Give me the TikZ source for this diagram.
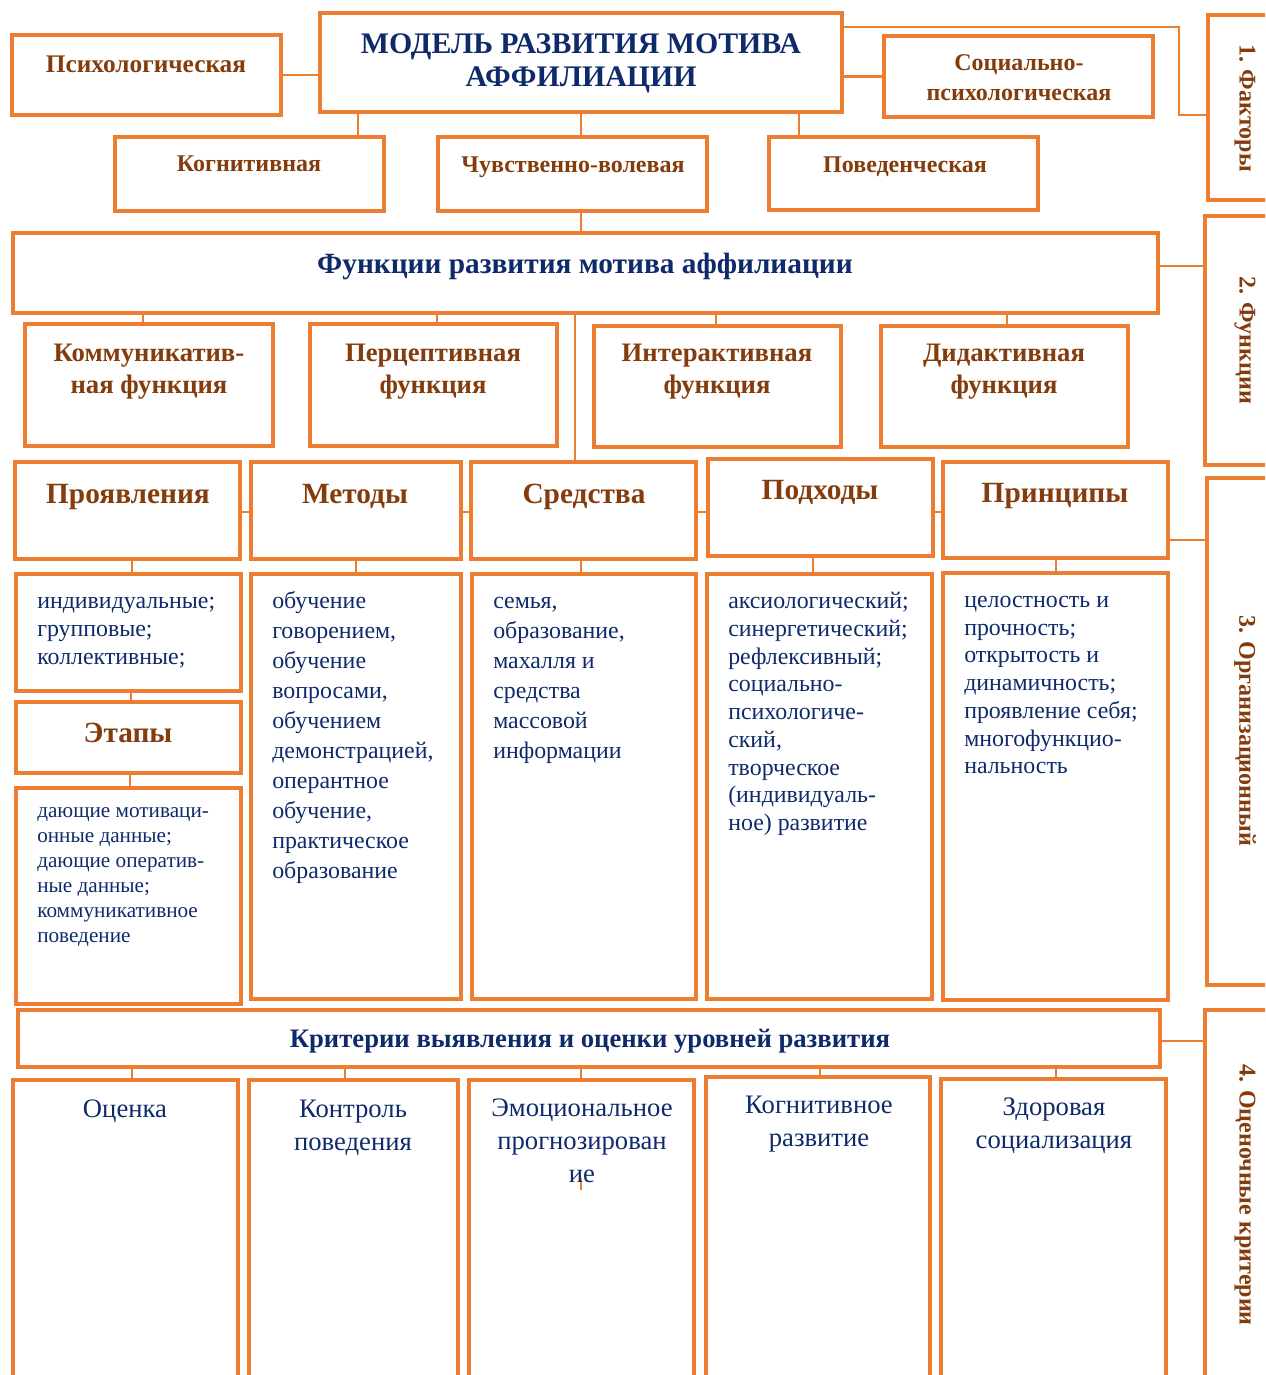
\documentclass[tikz,border=0pt]{standalone}
\usepackage{fontspec}
\setmainfont{Liberation Serif}
\usetikzlibrary{fit}

\definecolor{lineor}{HTML}{ED7D31}
\definecolor{txtbrown}{HTML}{843C0C}
\definecolor{txtblue}{HTML}{0E2A6A}

\tikzset{
  box/.style={rectangle, draw=lineor, line width=2.35pt, inner sep=0pt, outer sep=0pt},
  link/.style={draw=lineor, line width=2.1pt},
  factor/.style={text=txtbrown, inner sep=0pt, align=center, font=\bfseries\fontsize{18}{22.5}\selectfont},
  title/.style={text=txtblue, inner sep=0pt, align=center, font=\bfseries\fontsize{22.4}{24.75}\selectfont},
  band/.style={text=txtblue, inner sep=0pt, align=center, font=\bfseries\fontsize{#1}{24}\selectfont},
  func/.style={text=txtbrown, inner sep=0pt, align=center, font=\bfseries\fontsize{20}{24}\selectfont},
  colhead/.style={text=txtbrown, inner sep=0pt, align=center, font=\bfseries\fontsize{22}{26}\selectfont},
  side/.style={text=txtbrown, inner sep=0pt, rotate=-90, font=\bfseries\fontsize{18}{22}\selectfont},
  list/.style 2 args={text=txtblue, inner sep=0pt, align=left, anchor=north west, font=\fontsize{#1}{#2}\selectfont},
  crit/.style={text=txtblue, inner sep=0pt, align=center, font=\fontsize{20}{24.75}\selectfont}
}

\begin{document}
\begin{tikzpicture}[x=0.75pt,y=0.75pt,yscale=-1,xscale=1]
\useasboundingbox (0,0) rectangle (1265,1375);
\clip (0,0) rectangle (1265,1375);

% 1. factors
\node [box, fit={(12,35) (281,115)}] (psych) {};
\node [box, fit={(320,13) (842,112)}] (model) {};
\node [box, fit={(884,36) (1153,117)}] (socps) {};
\node [box, fit={(115,137) (384,211)}] (cogn) {};
\node [box, fit={(438,137) (707,211)}] (sens) {};
\node [box, fit={(769,137) (1038,210)}] (behav) {};
\node [box, fit={(1208,15) (1300,200)}] (side1) {};

% 2. functions
\node [box, fit={(13,233) (1158,313)}] (funcs) {};
\node [box, fit={(1205,216) (1300,465)}] (side2) {};
\node [box, fit={(25,324) (273,446)}] (fcomm) {};
\node [box, fit={(310,324) (557,446)}] (fperc) {};
\node [box, fit={(594,326) (841,447)}] (finter) {};
\node [box, fit={(881,326) (1128,447)}] (fdid) {};

% 3. organisation
\node [box, fit={(15,462) (240,559)}] (manif) {};
\node [box, fit={(251,462) (461,559)}] (meth) {};
\node [box, fit={(471,462) (696,559)}] (means) {};
\node [box, fit={(708,459) (933,556)}] (appr) {};
\node [box, fit={(943,462) (1168,558)}] (princ) {};
\node [box, fit={(1207,478) (1300,985)}] (side3) {};
\node [box, fit={(16,574) (241,691)}] (manifl) {};
\node [box, fit={(16,702) (241,773)}] (stages) {};
\node [box, fit={(16,788) (241,1004)}] (stagesl) {};
\node [box, fit={(251,574) (461,999)}] (methl) {};
\node [box, fit={(472,574) (696,999)}] (meansl) {};
\node [box, fit={(707,574) (932,999)}] (apprl) {};
\node [box, fit={(943,573) (1168,1000)}] (princl) {};

% 4. criteria
\node [box, fit={(18,1010) (1160,1067)}] (crit) {};
\node [box, fit={(1205,1010) (1300,1400)}] (side4) {};
\node [box, fit={(13,1080) (238,1400)}] (cest) {};
\node [box, fit={(249,1080) (458,1400)}] (cctl) {};
\node [box, fit={(469,1080) (694,1400)}] (cemo) {};
\node [box, fit={(706,1077) (930,1400)}] (ccog) {};
\node [box, fit={(941,1079) (1166,1400)}] (chlth) {};

% connectors
\draw [link] (psych.east) -- (psych.east -| model.west);
\draw [link] (socps.west -| model.east) -- (socps.west);
\draw [link] (model.east |- 0,27) -| (1179,115) -- (side1.west |- 0,115);
\draw [link] (358,0 |- model.south) -- (358,0 |- cogn.north);
\draw [link] (581,0 |- model.south) -- (581,0 |- sens.north);
\draw [link] (799,0 |- model.south) -- (799,0 |- behav.north);
\draw [link] (581,0 |- sens.south) -- (581,0 |- funcs.north);
\draw [link] (funcs.east |- 0,266) -- (side2.west |- 0,266);
\draw [link] (143,0 |- funcs.south) -- (143,0 |- fcomm.north);
\draw [link] (437,0 |- funcs.south) -- (437,0 |- fperc.north);
\draw [link] (716,0 |- funcs.south) -- (716,0 |- finter.north);
\draw [link] (1007,0 |- funcs.south) -- (1007,0 |- fdid.north);
\draw [link] (575,0 |- funcs.south) -- (575,0 |- means.north);
\draw [link] (manif.east |- 0,512) -- (meth.west |- 0,512);
\draw [link] (meth.east |- 0,512) -- (means.west |- 0,512);
\draw [link] (means.east |- 0,512) -- (appr.west |- 0,512);
\draw [link] (appr.east |- 0,512) -- (princ.west |- 0,512);
\draw [link] (princ.east |- 0,540) -- (side3.west |- 0,540);
\draw [link] (132,0 |- manif.south) -- (132,0 |- manifl.north);
\draw [link] (131,0 |- manifl.south) -- (131,0 |- stages.north);
\draw [link] (130,0 |- stages.south) -- (130,0 |- stagesl.north);
\draw [link] (356,0 |- meth.south) -- (356,0 |- methl.north);
\draw [link] (581,0 |- means.south) -- (581,0 |- meansl.north);
\draw [link] (813,0 |- appr.south) -- (813,0 |- apprl.north);
\draw [link] (1056,0 |- princ.south) -- (1056,0 |- princl.north);
\draw [link] (crit.east |- 0,1041) -- (side4.west |- 0,1041);
\draw [link] (132,0 |- crit.south) -- (132,0 |- cest.north);
\draw [link] (345,0 |- crit.south) -- (345,0 |- cctl.north);
\draw [link] (581,0 |- crit.south) -- (581,0 |- cemo.north);
\draw [link] (820,0 |- crit.south) -- (820,0 |- ccog.north);
\draw [link] (1056,0 |- crit.south) -- (1056,0 |- chlth.north);
\draw [link] (581,1178) -- (581,1190);

% Text Node
\node [factor, font=\bfseries\fontsize{19}{22.5}\selectfont] (psycht) at (146,64) {Психологическая};
\node [title] (modelt) at (581,63) {МОДЕЛЬ РАЗВИТИЯ МОТИВА\\АФФИЛИАЦИИ};
\node [factor] (socpst) at (1019,78) {Социально-\\психологическая};
\node [factor] (cognt) at (249,164) {Когнитивная};
\node [factor] (senst) at (573,167) {Чувственно-волевая};
\node [factor] (behavt) at (905,167) {Поведенческая};
\node [side] (side1t) at (1245,108) {1. Факторы};
% Text Node
\node [band=22] (funcst) at (585,266) {Функции развития мотива аффилиации};
\node [func] (fcommt) at (149,372) {Коммуникатив-\\ная функция};
\node [func] (fperct) at (433,372) {Перцептивная\\функция};
\node [func] (fintert) at (717,372) {Интерактивная\\функция};
\node [func] (fdidt) at (1004,372) {Дидактивная\\функция};
\node [side] (side2t) at (1245,340) {2. Функции};
% Text Node
\node [colhead] (manift) at (128,497) {Проявления};
\node [colhead] (metht) at (355,496) {Методы};
\node [colhead] (meanst) at (584,497) {Средства};
\node [colhead] (apprt) at (820,492) {Подходы};
\node [colhead] (princt) at (1055,496) {Принципы};
\node [colhead] (stagest) at (128,733) {Этапы};
\node [side] (side3t) at (1245,731) {3. Организационный};
\node [list={17.9}{21}] (manifx) at (37,597) {индивидуальные;\\групповые;\\коллективные;};
\node [list={15.9}{18.75}] (stagesx) at (37,807) {дающие мотиваци-\\онные данные;\\дающие оператив-\\ные данные;\\коммуникативное\\поведение};
\node [list={17.9}{22.5}] (methx) at (272,591) {обучение\\говорением,\\обучение\\вопросами,\\обучением\\демонстрацией,\\оперантное\\обучение,\\практическое\\образование};
\node [list={17.9}{22.5}] (meansx) at (493,597) {семья,\\образование,\\махалля и\\средства\\массовой\\информации};
\node [list={17.9}{20.8}] (apprx) at (728,592) {аксиологический;\\синергетический;\\рефлексивный;\\социально-\\психологиче-\\ский,\\творческое\\(индивидуаль-\\ное) развитие};
\node [list={17.9}{20.8}] (princx) at (964,596) {целостность и\\прочность;\\открытость и\\динамичность;\\проявление себя;\\многофункцио-\\нальность};
% Text Node
\node [band=20] (critt) at (590,1041) {Критерии выявления и оценки уровней развития};
\node [crit] (cestt) at (125,1111) {Оценка};
\node [crit] (cctlt) at (353,1128) {Контроль\\поведения};
\node [crit] (cemot) at (582,1141) {Эмоциональное\\прогнозирован\\ие};
\node [crit] (ccogt) at (819,1124) {Когнитивное\\развитие};
\node [crit] (chltht) at (1054,1126) {Здоровая\\социализация};
\node [side] (side4t) at (1245,1195) {4. Оценочные критерии};

\end{tikzpicture}
\end{document}
